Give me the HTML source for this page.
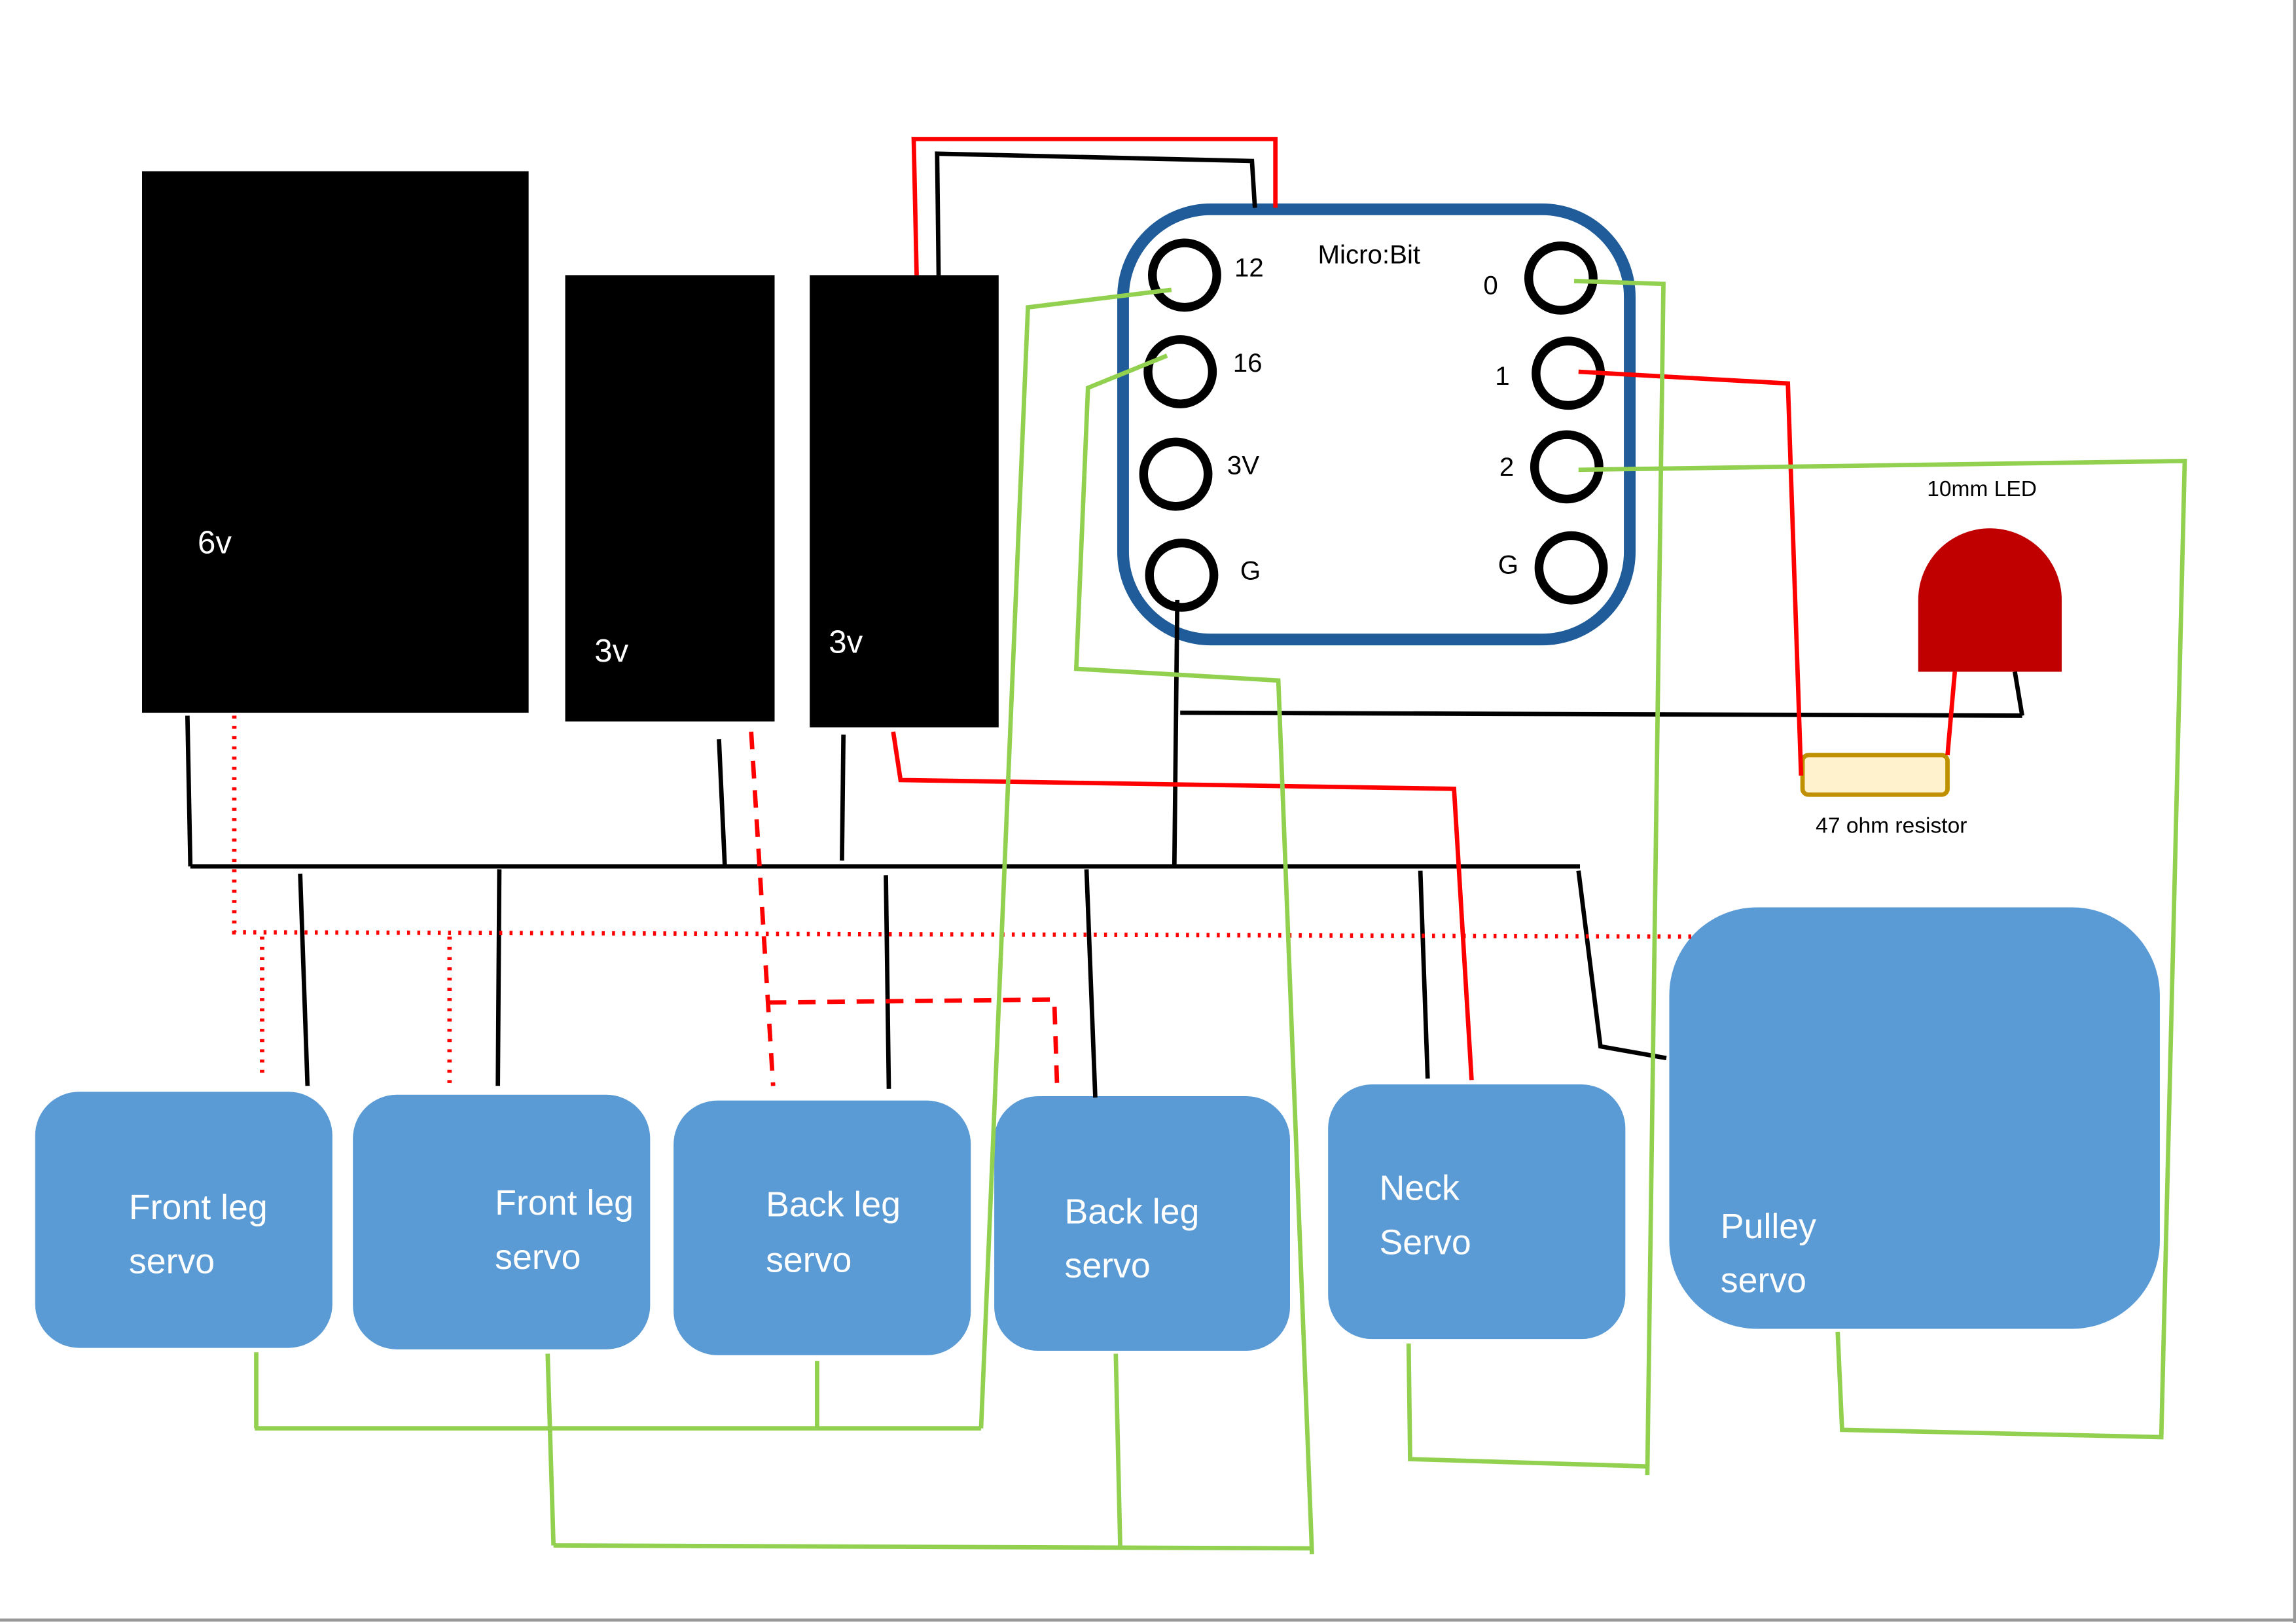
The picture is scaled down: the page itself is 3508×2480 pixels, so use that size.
<!DOCTYPE html>
<html><head><meta charset="utf-8"><style>
html,body{margin:0;padding:0;background:#fff;}
svg{display:block;}
text{font-family:"Liberation Sans",sans-serif;}
</style></head><body>
<svg width="3508" height="2480" viewBox="0 0 1568 1109" preserveAspectRatio="none" xmlns="http://www.w3.org/2000/svg">
<rect x="0" y="0" width="1568" height="1109" fill="#fff"/>
<line x1="0" y1="1107" x2="1568" y2="1107" stroke="#999" stroke-width="2"/>
<line x1="1567" y1="0" x2="1567" y2="1109" stroke="#999" stroke-width="2"/>
<!-- batteries -->
<rect x="97" y="117" width="264" height="370" fill="#000"/>
<text x="135" y="378" fill="#fff" font-size="22">6v</text>
<rect x="386" y="188" width="143" height="305" fill="#000"/>
<text x="406" y="452" fill="#fff" font-size="22">3v</text>
<rect x="553" y="188" width="129" height="309" fill="#000"/>
<text x="566" y="446" fill="#fff" font-size="22">3v</text>
<!-- microbit -->
<rect x="767" y="143" width="346" height="294" rx="60" fill="none" stroke="#1f5c99" stroke-width="8"/>
<g fill="none" stroke="#000" stroke-width="6">
<circle cx="809" cy="188" r="22"/><circle cx="806" cy="254" r="22"/><circle cx="803" cy="324" r="22"/><circle cx="807" cy="393" r="22"/>
<circle cx="1066" cy="190" r="22"/><circle cx="1071" cy="255" r="22"/><circle cx="1070" cy="319" r="22"/><circle cx="1073" cy="388" r="22"/>
</g>
<g font-size="18" fill="#000">
<text x="843" y="189">12</text><text x="842" y="254">16</text><text x="838" y="324">3V</text><text x="847" y="396">G</text>
<text x="1013" y="201">0</text><text x="1021" y="263">1</text><text x="1024" y="325">2</text><text x="1023" y="392">G</text>
<text x="900" y="180">Micro:Bit</text>
</g>
<!-- LED -->
<path d="M1310,459 V410 A49,49 0 0 1 1408,410 V459 Z" fill="#c00000"/>
<text x="1316" y="339" font-size="15">10mm LED</text>
<rect x="1231" y="516" width="99" height="27" rx="4" fill="#fff2cc" stroke="#bf9000" stroke-width="3"/>
<text x="1240" y="569" font-size="15">47 ohm resistor</text>
<!-- servos -->
<g fill="#5b9bd5">
<rect x="24" y="746" width="203" height="175" rx="30"/>
<rect x="241" y="748" width="203" height="174" rx="30"/>
<rect x="460" y="752" width="203" height="174" rx="30"/>
<rect x="679" y="749" width="202" height="174" rx="30"/>
<rect x="907" y="741" width="203" height="174" rx="30"/>
<rect x="1140" y="620" width="335" height="288" rx="60"/>
</g>
<g fill="#fff" font-size="24">
<text x="88" y="833">Front leg</text><text x="88" y="870">servo</text>
<text x="338" y="830">Front leg</text><text x="338" y="867">servo</text>
<text x="523" y="831">Back leg</text><text x="523" y="869">servo</text>
<text x="727" y="836">Back leg</text><text x="727" y="873">servo</text>
<text x="942" y="820">Neck</text><text x="942" y="857">Servo</text>
<text x="1175" y="846">Pulley</text><text x="1175" y="883">servo</text>
</g>
<!-- black wires -->
<g stroke="#000" stroke-width="3" fill="none">
<line x1="130" y1="592" x2="1079" y2="592"/>
<line x1="128" y1="489" x2="130" y2="592"/>
<line x1="491" y1="505" x2="495" y2="592"/>
<line x1="576" y1="502" x2="575" y2="588"/>
<line x1="205" y1="597" x2="210" y2="742"/>
<line x1="341" y1="594" x2="340" y2="742"/>
<line x1="605" y1="598" x2="607" y2="744"/>
<line x1="742" y1="594" x2="748" y2="750"/>
<line x1="970" y1="595" x2="975" y2="737"/>
<polyline points="1078,595 1093,715 1138,723"/>
<line x1="804" y1="410" x2="802" y2="592"/>
<line x1="806" y1="487" x2="1381" y2="489"/>
<line x1="1376" y1="459" x2="1381" y2="489"/>
<polyline points="641,188 640,105 855,110 857,142"/>
</g>
<!-- red wires -->
<g stroke="#ff0000" stroke-width="3" fill="none">
<polyline points="626,188 624,95 871,95 871,142"/>
<polyline points="610,500 615,533 993,539 1005,738"/>
<polyline points="1078,254 1221,262 1230,530"/>
<line x1="1335" y1="459" x2="1330" y2="516"/>
</g>
<g stroke="#ff0000" stroke-width="3" fill="none" stroke-dasharray="2,5">
<polyline points="160,489 160,637 1160,640"/>
<line x1="179" y1="640" x2="179" y2="735"/>
<line x1="307" y1="640" x2="307" y2="742"/>
</g>
<g stroke="#ff0000" stroke-width="3" fill="none" stroke-dasharray="12,8">
<line x1="513" y1="500" x2="528" y2="742"/>
<polyline points="525,685 720,683 722,745"/>
</g>
<!-- green wires -->
<g stroke="#92d050" stroke-width="3" fill="none">
<polyline points="800,198 702,210 670,976"/>
<line x1="174" y1="976" x2="670" y2="976"/>
<line x1="175" y1="924" x2="175" y2="976"/>
<line x1="558" y1="930" x2="558" y2="975"/>
<polyline points="797,243 743,265 735,457 873,465 896,1062"/>
<line x1="378" y1="1056" x2="896" y2="1058"/>
<line x1="374" y1="925" x2="378" y2="1056"/>
<line x1="762" y1="925" x2="765" y2="1056"/>
<polyline points="1075,192 1136,194 1125,1008"/>
<polyline points="962,918 963,997 1125,1002"/>
<polyline points="1078,321 1492,315 1476,982 1258,977 1255,910"/>
</g>
</svg>
</body></html>
